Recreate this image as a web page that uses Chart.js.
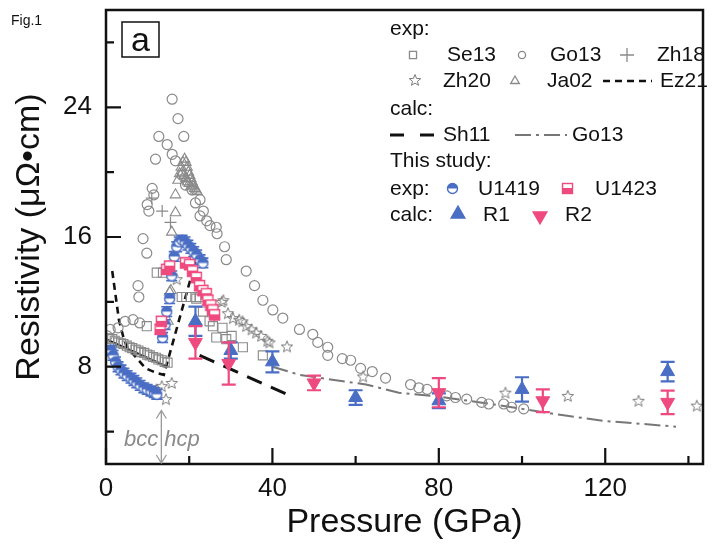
<!DOCTYPE html>
<html>
<head>
<meta charset="utf-8">
<title>Fig.1 - Resistivity vs Pressure</title>
<script src="https://cdn.jsdelivr.net/npm/chart.js@4.4.1/dist/chart.umd.min.js"></script>
<style>
  html, body { margin: 0; padding: 0; background: #fff; }
  #wrap { width: 712px; height: 548px; }
</style>
</head>
<body>
<div id="wrap"><canvas id="chart" width="712" height="548"></canvas></div>
<script>
// values: pressure (GPa) / resistivity (µΩ·cm)
const xTicks = [0, 20, 40, 60, 80, 100, 120, 140];
const xLabels = [0, 40, 80, 120];
const yTicks = [4, 8, 12, 16, 20, 24, 28];
const yLabels = [8, 16, 24];

// exp: literature
const se13P = [0.8, 1.5, 2.1, 2.9, 3.6, 4.2, 5.0, 5.7, 6.3, 7.1, 7.8, 8.4, 9.2, 9.9, 10.5, 11.3, 12.0, 12.6, 13.4, 14.1, 14.8, 9.8, 12.2, 13.7, 18.2, 19.3, 20.4, 21.7, 22.5, 23.3, 24.9, 25.7, 26.5, 28.0, 28.9, 30.2, 32.9, 37.7];
const se13R = [9.75, 9.7, 9.6, 9.5, 9.45, 9.4, 9.3, 9.2, 9.15, 9.05, 9.0, 8.9, 8.85, 8.75, 8.7, 8.6, 8.55, 8.45, 8.4, 8.3, 8.25, 10.5, 13.8, 13.8, 12.3, 12.3, 12.3, 12.2, 12.3, 11.4, 10.8, 10.5, 9.8, 10.4, 9.7, 9.9, 9.2, 8.7];

const go13P = [0.3, 1.0, 2.9, 4.6, 6.5, 8.1, 7.7, 7.9, 8.9, 9.8, 9.9, 10.3, 11.1, 11.5, 11.9, 12.7, 14.7, 15.9, 15.9, 16.7, 17.3, 18.7, 18.3, 19.1, 20.7, 21.5, 22.6, 22.6, 23.4, 24.2, 25.0, 26.5, 26.7, 28.5, 28.9, 33.7, 35.7, 37.7, 40.1, 42.5, 46.5, 49.7, 50.9, 53.3, 53.3, 56.8, 58.8, 61.2, 64.0, 67.2, 73.2, 75.2, 77.2, 81.9, 84.0, 86.7, 90.3, 92.0, 95.6, 97.5, 100.4];
const go13R = [9.9, 10.3, 10.4, 10.8, 10.9, 10.7, 13.0, 12.3, 15.9, 15.0, 18.0, 17.6, 19.0, 18.6, 20.8, 22.2, 21.7, 24.5, 21.1, 20.7, 23.3, 22.2, 19.8, 19.2, 18.9, 18.1, 18.3, 17.3, 17.6, 17.0, 16.7, 16.6, 16.2, 15.4, 14.6, 13.9, 13.0, 12.1, 11.5, 11.0, 10.3, 10.0, 9.5, 9.2, 8.7, 8.5, 8.4, 7.9, 7.7, 7.3, 6.9, 6.7, 6.6, 6.2, 6.1, 6.0, 5.8, 5.7, 5.7, 5.5, 5.4];

const zh18P = [11.0, 13.5, 15.5];
const zh18R = [18.4, 17.6, 16.9];

const zh20P = [12.2, 13.4, 14.4, 15.8, 17.0, 25.7, 27.8, 28.2, 29.3, 30.5, 32.0, 32.8, 33.7, 35.0, 36.1, 37.3, 38.8, 39.3, 43.5, 61.8, 96.0, 111.0, 128.0, 142.0];
const zh20R = [6.6, 6.8, 6.0, 7.0, 13.4, 11.3, 12.0, 12.1, 11.3, 11.0, 10.9, 10.8, 10.5, 10.3, 10.1, 9.9, 9.6, 9.5, 9.25, 7.4, 6.4, 6.2, 5.9, 5.6];

const ja02P = [14.9, 15.3, 15.6, 15.8, 16.7, 16.7, 17.3, 17.7, 18.1, 18.5, 18.9, 19.2, 19.5, 19.8, 20.1, 20.4, 20.7, 21.0, 21.3, 21.6, 21.9, 18.4, 18.8, 19.2, 19.6, 20.0, 20.4];
const ja02R = [10.8, 12.6, 12.7, 16.3, 17.5, 18.6, 19.5, 19.9, 20.3, 20.6, 20.8, 20.6, 20.3, 20.0, 19.8, 19.6, 19.4, 19.2, 19.0, 18.9, 18.8, 20.0, 19.8, 19.6, 19.4, 19.3, 19.1];

const ez21P = [1.5, 2.3, 3.1, 4.3, 5.1, 7.5, 9.5, 12.3, 13.9, 21.5];
const ez21R = [13.9, 12.4, 10.9, 9.7, 9.2, 8.5, 7.9, 7.6, 7.5, 14.5];

// calc: literature
const sh11BccP = [0, 14.7];
const sh11BccR = [9.7, 8.0];
const sh11HcpP = [22.5, 43.5];
const sh11HcpR = [8.7, 6.3];

const go13CalcP = [40, 46.5, 54.4, 62.5, 70.4, 80, 90, 100, 110, 120, 130, 137];
const go13CalcR = [8.0, 7.5, 7.2, 6.9, 6.4, 6.15, 5.8, 5.4, 5.0, 4.65, 4.45, 4.3];

// this study
const u1419P = [1.2, 1.7, 2.3, 2.9, 3.6, 4.3, 5.1, 6.0, 6.7, 7.4, 8.2, 9.1, 9.9, 10.8, 11.6, 12.2, 13.6, 14.2, 14.6, 15.3, 15.8, 16.4, 17.0, 17.6, 18.3, 19.0, 19.7, 20.4, 21.1, 21.8, 22.6, 23.3];
const u1419R = [9.0, 8.7, 8.3, 8.0, 7.8, 7.6, 7.45, 7.3, 7.15, 7.0, 6.85, 6.7, 6.6, 6.5, 6.4, 6.3, 9.8, 10.6, 11.4, 12.2, 13.6, 14.8, 15.4, 15.7, 15.8, 15.7, 15.5, 15.3, 15.1, 14.9, 14.6, 14.4];
const u1419Err = 0.3;

const u1423P = [13.0, 13.3, 14.6, 15.3, 19.1, 20.1, 20.8, 21.7, 22.5, 23.3, 24.1, 24.5, 25.2, 25.7, 26.1];
const u1423R = [10.3, 10.8, 14.0, 14.2, 14.4, 14.3, 13.9, 13.5, 13.0, 12.7, 12.5, 12.1, 11.8, 11.5, 11.2];
const u1423Err = 0.3;

const r1P = [21.5, 30, 40, 60, 80, 100, 135];
const r1R = [10.8, 9.0, 8.3, 6.1, 5.9, 6.6, 7.7];
const r1Err = [0.9, 0.5, 0.65, 0.45, 0.45, 0.75, 0.6];

const r2P = [21.5, 29.5, 50, 80, 105, 135];
const r2R = [9.5, 8.2, 7.0, 6.4, 5.9, 5.8];
const r2Err = [1.0, 1.3, 0.45, 0.9, 0.7, 0.72];

const GRAY = '#8a8a8a';
const BLUE = '#4a6ec4';
const PINK = '#ef4a7f';
const INK = '#111';
const FONT = "'Liberation Sans', Arial, sans-serif";

const pts = (xs, ys) => xs.map((x, i) => ({ x, y: ys[i] }));

// small canvases used as point styles
function starImg(color) {
  const c = document.createElement('canvas');
  c.width = c.height = 14;
  const g = c.getContext('2d');
  g.strokeStyle = color; g.lineWidth = 1;
  g.beginPath();
  for (let k = 0; k < 10; k++) {
    const r = k % 2 ? 2.6 : 6.0;
    const a = -Math.PI / 2 + k * Math.PI / 5;
    const px = 7 + r * Math.cos(a), py = 7.5 + r * Math.sin(a);
    k ? g.lineTo(px, py) : g.moveTo(px, py);
  }
  g.closePath(); g.stroke();
  return c;
}

function halfCircle(color) {
  const c = document.createElement('canvas');
  c.width = c.height = 13;
  const g = c.getContext('2d');
  g.fillStyle = '#fff';
  g.beginPath(); g.arc(6.5, 6.5, 5, 0, 2 * Math.PI); g.fill();
  g.fillStyle = color;
  g.beginPath(); g.arc(6.5, 6.5, 5, Math.PI, 0); g.closePath(); g.fill();
  g.strokeStyle = color; g.lineWidth = 1.4;
  g.beginPath(); g.arc(6.5, 6.5, 5, 0, 2 * Math.PI); g.stroke();
  return c;
}

function halfSquare(color) {
  const c = document.createElement('canvas');
  c.width = c.height = 13;
  const g = c.getContext('2d');
  g.fillStyle = '#fff'; g.fillRect(1.5, 1.5, 10, 10);
  g.fillStyle = color; g.fillRect(1.5, 6, 10, 5.5);
  g.strokeStyle = color; g.lineWidth = 1.4; g.strokeRect(1.5, 1.5, 10, 10);
  return c;
}

const STAR = starImg('#7a7a7a');
const HALF_C = halfCircle(BLUE);
const HALF_S = halfSquare(PINK);

// error bars behind the markers
const errorBars = {
  id: 'errorBars',
  beforeDatasetDraw(chart, args) {
    const ds = chart.data.datasets[args.index];
    if (ds.errors == null) return;
    const { ctx, scales: { y } } = chart;
    ctx.save();
    ctx.strokeStyle = ds.errorColor;
    ctx.lineWidth = ds.errorWidth || 2;
    args.meta.data.forEach((el, i) => {
      const e = Array.isArray(ds.errors) ? ds.errors[i] : ds.errors;
      const v = ds.data[i].y;
      const top = y.getPixelForValue(v + e), bot = y.getPixelForValue(v - e), w = ds.capHalf;
      ctx.beginPath();
      ctx.moveTo(el.x, top); ctx.lineTo(el.x, bot);
      ctx.moveTo(el.x - w, top); ctx.lineTo(el.x + w, top);
      ctx.moveTo(el.x - w, bot); ctx.lineTo(el.x + w, bot);
      ctx.stroke();
    });
    ctx.restore();
  }
};

// box around the plot and inward ticks
const frameAndTicks = {
  id: 'frameAndTicks',
  afterDraw(chart) {
    const { ctx, chartArea: a, scales: { x, y } } = chart;
    ctx.save();
    ctx.strokeStyle = INK;
    ctx.lineWidth = 2.5;
    ctx.strokeRect(a.left, a.top, a.right - a.left, a.bottom - a.top);
    ctx.lineWidth = 2.2;
    ctx.beginPath();
    xTicks.forEach(v => {
      const px = x.getPixelForValue(v);
      const len = xLabels.includes(v) ? 16 : 8;
      ctx.moveTo(px, a.bottom); ctx.lineTo(px, a.bottom - len);
    });
    yTicks.forEach(v => {
      const py = y.getPixelForValue(v);
      const len = yLabels.includes(v) ? 15 : 8;
      ctx.moveTo(a.left, py); ctx.lineTo(a.left + len, py);
    });
    ctx.stroke();
    ctx.restore();
  }
};

function sym(ctx, style, x, y, r, color, fill, rot) {
  ctx.save();
  ctx.strokeStyle = color;
  ctx.fillStyle = fill || 'rgba(0,0,0,0)';
  Chart.helpers.drawPoint(ctx, { pointStyle: style, radius: r, rotation: rot || 0, borderWidth: 1.2 }, x, y);
  ctx.restore();
}

function dashLine(ctx, x1, x2, y, color, width, dash) {
  ctx.save();
  ctx.strokeStyle = color; ctx.lineWidth = width; ctx.setLineDash(dash);
  ctx.beginPath(); ctx.moveTo(x1, y); ctx.lineTo(x2, y); ctx.stroke();
  ctx.restore();
}

// legend, panel letter, phase marker
const annotations = {
  id: 'annotations',
  afterDraw(chart) {
    const { ctx, chartArea: a, scales: { x, y } } = chart;
    ctx.save();
    ctx.fillStyle = INK;
    ctx.textBaseline = 'middle';
    ctx.textAlign = 'left';

    ctx.font = `14px ${FONT}`;
    ctx.fillText('Fig.1', 11, 21);

    ctx.lineWidth = 1.5; ctx.strokeStyle = INK;
    ctx.strokeRect(122, 22, 37, 35);
    ctx.font = `34px ${FONT}`;
    ctx.textAlign = 'center'; ctx.textBaseline = 'alphabetic';
    ctx.fillText('a', 140.5, 51);

    // bcc | hcp
    const ax = x.getPixelForValue(13.3);
    const ay = y.getPixelForValue(5.3);
    ctx.strokeStyle = '#9a9a9a'; ctx.lineWidth = 1.3;
    ctx.beginPath();
    ctx.moveTo(ax, ay); ctx.lineTo(ax, a.bottom - 1);
    ctx.moveTo(ax - 5, ay + 8); ctx.lineTo(ax, ay); ctx.lineTo(ax + 5, ay + 8);
    ctx.moveTo(ax - 5, a.bottom - 9); ctx.lineTo(ax, a.bottom - 1); ctx.lineTo(ax + 5, a.bottom - 9);
    ctx.stroke();
    ctx.fillStyle = '#8a8a8a';
    ctx.font = `italic 22px ${FONT}`;
    ctx.textAlign = 'right'; ctx.fillText('bcc', ax - 3, 446);
    ctx.textAlign = 'left'; ctx.fillText('hcp', ax + 3, 446);

    // legend
    ctx.fillStyle = INK;
    ctx.font = `21px ${FONT}`;
    ctx.textBaseline = 'middle';
    const L = 390;
    const t = (s, px, py) => ctx.fillText(s, px, py);
    t('exp:', L, 29);
    sym(ctx, 'rect', 413, 55, 5, GRAY); t('Se13', 447, 55);
    sym(ctx, 'circle', 522, 55, 3.6, GRAY); t('Go13', 550, 55);
    sym(ctx, 'cross', 627, 55, 7, GRAY); t('Zh18', 657, 55);
    ctx.drawImage(STAR, 408, 73); t('Zh20', 443, 81);
    sym(ctx, 'triangle', 515, 81, 5, GRAY); t('Ja02', 547, 81);
    dashLine(ctx, 603, 652, 81, INK, 2.5, [7, 5]); t('Ez21', 660, 81);
    t('calc:', L, 109);
    dashLine(ctx, L, 436, 135, INK, 3, [14, 16]); t('Sh11', 443, 135);
    dashLine(ctx, 515, 567, 135, '#777', 2, [16, 5, 3, 5]); t('Go13', 572, 135);
    t('This study:', L, 161);
    t('exp:', L, 189);
    ctx.drawImage(HALF_C, 446, 182); t('U1419', 478, 189);
    ctx.drawImage(HALF_S, 561, 182); t('U1423', 595, 189);
    t('calc:', L, 215);
    sym(ctx, 'triangle', 458, 214, 8, BLUE, BLUE); t('R1', 483, 215);
    sym(ctx, 'triangle', 540, 216, 8, PINK, PINK, 180); t('R2', 565, 215);
    ctx.restore();
  }
};

// drop the label-overflow padding so the plot box sits where the figure has it
function noPad(s) {
  s.paddingTop = 0; s.paddingBottom = 0; s.paddingLeft = 0; s.paddingRight = 0;
}

Chart.defaults.font.family = FONT;
Chart.defaults.color = INK;

new Chart(document.getElementById('chart'), {
  type: 'scatter',
  data: {
    datasets: [
      { label: 'R2', data: pts(r2P, r2R), pointStyle: 'triangle', rotation: 180, pointRadius: 8,
        backgroundColor: PINK, borderColor: PINK, borderWidth: 1,
        errors: r2Err, errorColor: PINK, capHalf: 7, errorWidth: 2.2 },
      { label: 'R1', data: pts(r1P, r1R), pointStyle: 'triangle', pointRadius: 8,
        backgroundColor: BLUE, borderColor: BLUE, borderWidth: 1,
        errors: r1Err, errorColor: BLUE, capHalf: 7, errorWidth: 2.2 },
      { label: 'U1423', data: pts(u1423P, u1423R), pointStyle: HALF_S,
        errors: u1423Err, errorColor: PINK, capHalf: 5.5, errorWidth: 1.6 },
      { label: 'U1419', data: pts(u1419P, u1419R), pointStyle: HALF_C,
        errors: u1419Err, errorColor: BLUE, capHalf: 5.5, errorWidth: 1.6 },
      { label: 'Se13', data: pts(se13P, se13R), pointStyle: 'rect', pointRadius: 6.4,
        backgroundColor: 'rgba(0,0,0,0)', borderColor: GRAY, borderWidth: 1.1 },
      { label: 'Go13', data: pts(go13P, go13R), pointStyle: 'circle', pointRadius: 5,
        backgroundColor: 'rgba(0,0,0,0)', borderColor: GRAY, borderWidth: 1.2 },
      { label: 'Zh18', data: pts(zh18P, zh18R), pointStyle: 'cross', pointRadius: 6,
        borderColor: GRAY, borderWidth: 1.2 },
      { label: 'Zh20', data: pts(zh20P, zh20R), pointStyle: STAR },
      { label: 'Ja02', data: pts(ja02P, ja02R), pointStyle: 'triangle', pointRadius: 6,
        backgroundColor: 'rgba(0,0,0,0)', borderColor: GRAY, borderWidth: 1.1 },
      { label: 'Ez21', data: pts(ez21P, ez21R), showLine: true, pointRadius: 0,
        borderColor: INK, borderWidth: 2.6, borderDash: [7, 5], tension: 0 },
      { label: 'Sh11 bcc', data: pts(sh11BccP, sh11BccR), showLine: true, pointRadius: 0,
        borderColor: INK, borderWidth: 2.2 },
      { label: 'Sh11', data: pts(sh11HcpP, sh11HcpR), showLine: true, pointRadius: 0,
        borderColor: INK, borderWidth: 3, borderDash: [16, 10] },
      { label: 'Go13 calc', data: pts(go13CalcP, go13CalcR), showLine: true, pointRadius: 0,
        borderColor: '#777', borderWidth: 2, borderDash: [16, 5, 3, 5] }
    ]
  },
  options: {
    responsive: false,
    animation: false,
    layout: { padding: { top: 10, right: 6, left: 0, bottom: 0 } },
    plugins: { legend: { display: false }, tooltip: { enabled: false } },
    scales: {
      x: {
        type: 'linear', min: 0, max: 143.5,
        afterBuildTicks: s => { s.ticks = xTicks.map(v => ({ value: v })); },
        afterFit: s => { s.height = 84; noPad(s); },
        grid: { display: false, drawTicks: false },
        border: { display: false },
        ticks: { callback: v => xLabels.includes(v) ? String(v) : '', font: { size: 26 }, color: INK,
                 padding: 9, maxRotation: 0, autoSkip: false },
        title: { display: true, text: 'Pressure (GPa)', font: { size: 34 }, color: INK,
                 padding: { top: 0, bottom: 5 } }
      },
      y: {
        type: 'linear', min: 2, max: 30,
        afterBuildTicks: s => { s.ticks = yTicks.map(v => ({ value: v })); },
        afterFit: s => { s.width = 106; noPad(s); },
        grid: { display: false, drawTicks: false },
        border: { display: false },
        ticks: { callback: v => yLabels.includes(v) ? String(v) : '', font: { size: 26 }, color: INK,
                 padding: 14, autoSkip: false },
        title: { display: true, text: 'Resistivity (μΩ•cm)', font: { size: 34 }, color: INK,
                 padding: { top: 9, bottom: 0 } }
      }
    }
  },
  plugins: [errorBars, frameAndTicks, annotations]
});
</script>
</body>
</html>
